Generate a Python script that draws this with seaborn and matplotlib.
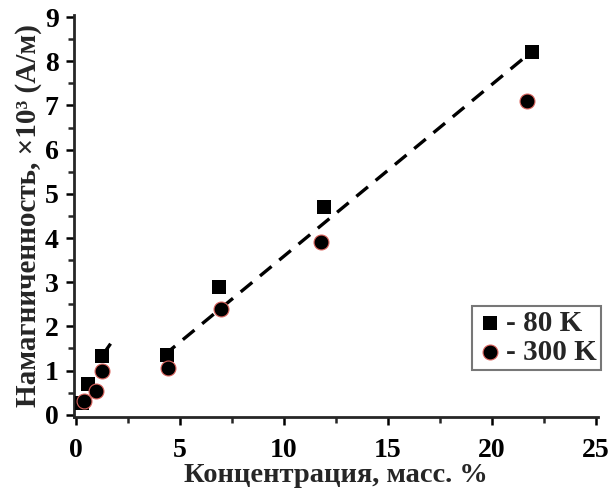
import seaborn as sns
import matplotlib.pyplot as plt
import pandas as pd
from matplotlib.ticker import MultipleLocator

# concentration (mass %) and magnetisation (x10^3 A/m)
conc_80 = [0.28, 0.6, 1.25, 4.35, 6.85, 11.9, 21.9]
mag_80 = [0.26, 0.69, 1.33, 1.36, 2.90, 4.70, 8.21]
conc_300 = [0.37, 0.94, 1.25, 4.4, 6.97, 11.8, 21.7]
mag_300 = [0.32, 0.54, 0.99, 1.05, 2.40, 3.92, 7.11]

# dashed trend lines (two segments)
trend1_x = [1.25, 1.87]
trend1_y = [1.33, 1.75]
trend2_x = [4.21, 21.7]
trend2_y = [1.34, 8.14]

df80 = pd.DataFrame({'x': conc_80, 'y': mag_80})
df300 = pd.DataFrame({'x': conc_300, 'y': mag_300})
t1 = pd.DataFrame({'x': trend1_x, 'y': trend1_y})
t2 = pd.DataFrame({'x': trend2_x, 'y': trend2_y})

sns.set_style("ticks")
plt.rcParams['font.family'] = ['Liberation Serif', 'DejaVu Serif']
plt.rcParams['font.weight'] = 'bold'

fig = plt.figure(figsize=(6.11, 4.97), dpi=100)
ax = fig.add_axes([0.121, 0.161, 0.858, 0.809])

for t in (t1, t2):
	sns.lineplot(data=t, x='x', y='y', ax=ax, color='black', lw=2.4,
		dashes=False, linestyle=(0, (4.5, 3.0)), zorder=1)

sns.scatterplot(data=df80, x='x', y='y', ax=ax, marker='s', s=100, color='black',
	edgecolor='black', linewidth=0, label='- 80 K', zorder=3)
sns.scatterplot(data=df300, x='x', y='y', ax=ax, marker='o', s=115, color='black',
	edgecolor='#d9605a', linewidth=0.8, label='- 300 K', zorder=4)

ax.set_xlim(-0.1, 25.1)
ax.set_ylim(-0.05, 9.05)
ax.xaxis.set_major_locator(MultipleLocator(5))
ax.xaxis.set_minor_locator(MultipleLocator(2.5))
ax.yaxis.set_major_locator(MultipleLocator(1))
ax.yaxis.set_minor_locator(MultipleLocator(0.5))
ax.tick_params(which='major', length=6, width=1.8, labelsize=20, colors='black', pad=5)
ax.tick_params(axis='x', which='major', pad=9)
ax.tick_params(which='minor', length=4, width=1.8)
for s in ['left', 'bottom']:
	ax.spines[s].set_linewidth(2)
sns.despine(ax=ax)
for lab in ax.get_xticklabels() + ax.get_yticklabels():
	lab.set_fontweight('bold')

ax.set_xlabel('Концентрация, масс. %', fontsize=20.5, fontweight='bold', labelpad=0)
ax.set_ylabel('Намагниченность, ×10³ (А/м)', fontsize=21, fontweight='bold', labelpad=2)

leg = ax.legend(loc='lower right', bbox_to_anchor=(1.005, 0.117), fontsize=21,
	frameon=True, fancybox=False, handletextpad=0.1, borderpad=0.15,
	labelspacing=0.05, handlelength=0.9, borderaxespad=0)
leg.get_frame().set_edgecolor('#555555')
leg.get_frame().set_linewidth(1.5)
for txt in leg.get_texts():
	txt.set_fontweight('bold')

plt.savefig('out.png', dpi=100)
